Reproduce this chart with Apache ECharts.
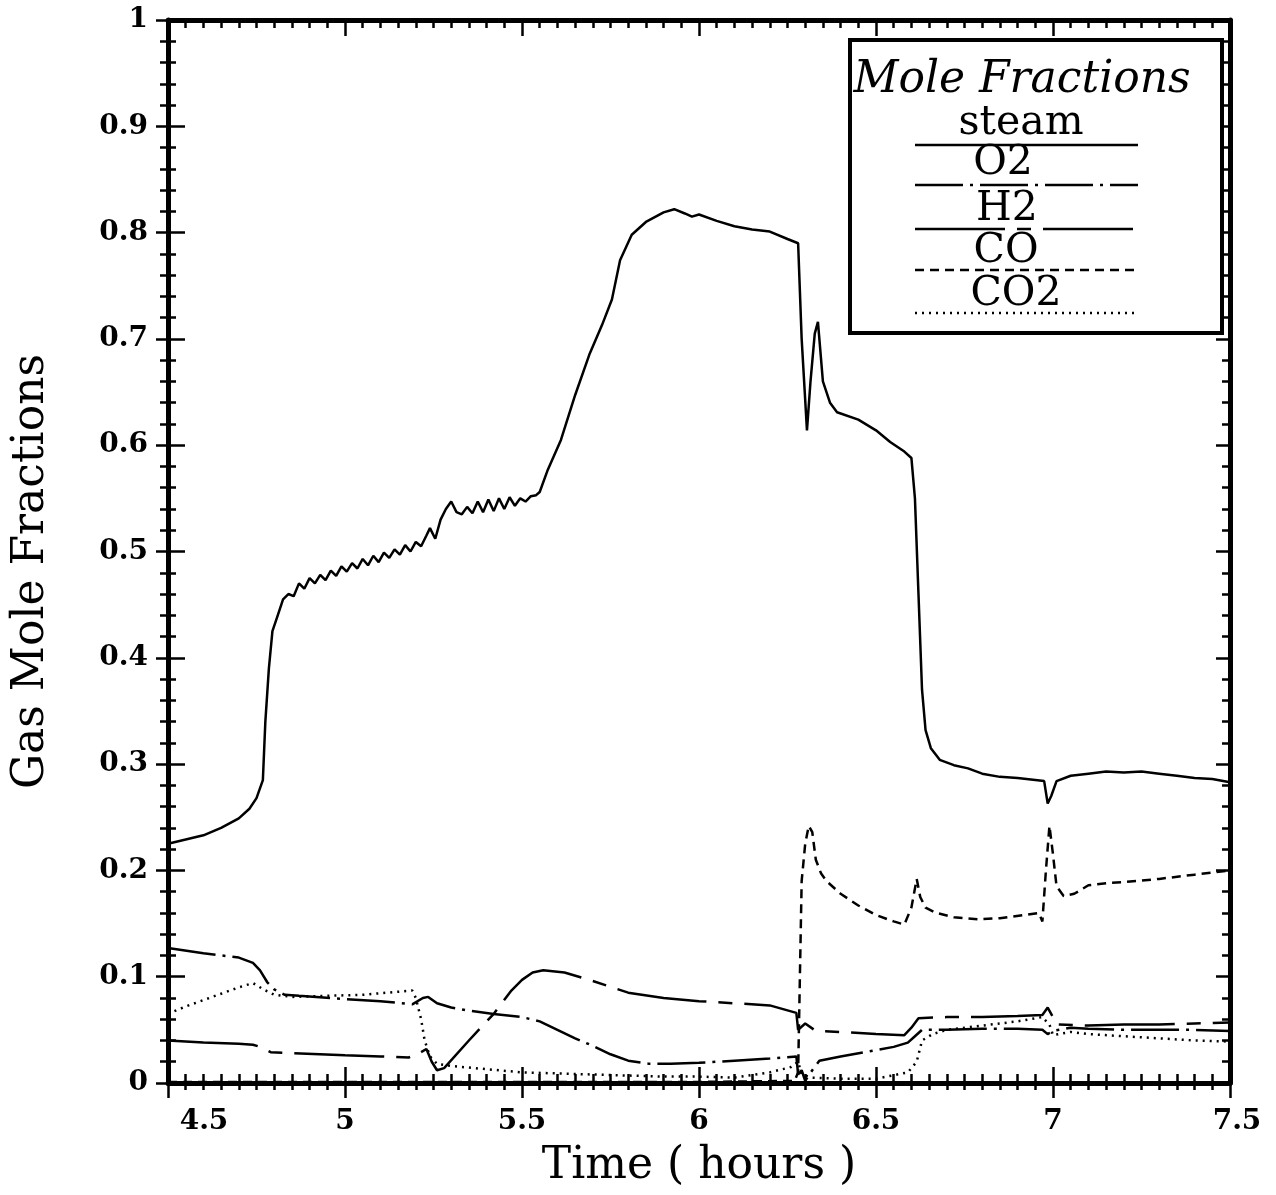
<!DOCTYPE html>
<html>
<head>
<meta charset="utf-8">
<script src="https://cdn.jsdelivr.net/npm/echarts@6/dist/echarts.min.js"></script>
<style>
html,body{margin:0;padding:0;background:#fff;}
#chart{width:1276px;height:1195px;}
</style>
</head>
<body>
<div id="chart"></div>
<script>
// ---- data ----
const xTickLabels = ['4.5','5','5.5','6','6.5','7','7.5'];
const yTickLabels = ['0','0.1','0.2','0.3','0.4','0.5','0.6','0.7','0.8','0.9','1'];
const seriesNames = ['steam','O2','H2','CO','CO2'];

const steamT = [4.50,4.55,4.60,4.65,4.70,4.73,4.75,4.768,4.775,4.785,4.795,4.81,4.825,4.84,4.855,
  4.87,4.885,4.90,4.915,4.93,4.945,4.96,4.975,4.99,5.005,5.02,5.035,5.05,5.065,5.08,5.095,5.11,5.125,5.14,5.155,5.17,5.185,5.20,5.215,5.23,5.24,5.255,
  5.27,5.285,5.30,5.315,5.33,5.345,5.36,5.375,5.39,5.405,5.42,5.435,5.45,5.465,5.48,5.495,5.51,5.525,5.54,
  5.55,5.573,5.61,5.65,5.69,5.726,5.754,5.777,5.81,5.85,5.90,5.93,5.96,5.98,6.00,6.05,6.10,6.15,6.20,6.25,6.28,
  6.29,6.305,6.315,6.327,6.336,6.35,6.37,6.39,6.45,6.50,6.54,6.58,6.60,6.61,6.62,6.63,6.64,6.655,6.68,6.72,6.76,6.80,6.85,6.90,6.95,6.975,
  6.985,6.995,7.01,7.05,7.10,7.15,7.20,7.25,7.30,7.35,7.40,7.45,7.50];
const steamV = [0.225,0.229,0.233,0.240,0.249,0.258,0.268,0.285,0.340,0.390,0.425,0.440,0.455,0.460,0.458,
  0.470,0.465,0.475,0.470,0.478,0.473,0.482,0.477,0.486,0.481,0.489,0.484,0.493,0.487,0.496,0.490,0.499,0.494,0.502,0.497,0.506,0.500,0.509,0.505,0.515,0.522,0.512,
  0.530,0.540,0.547,0.537,0.535,0.542,0.536,0.547,0.537,0.549,0.538,0.550,0.540,0.551,0.543,0.550,0.547,0.552,0.553,
  0.556,0.577,0.605,0.647,0.685,0.713,0.737,0.774,0.798,0.810,0.819,0.822,0.818,0.815,0.817,0.811,0.806,0.803,0.801,0.794,0.790,
  0.700,0.614,0.660,0.705,0.716,0.660,0.640,0.631,0.624,0.614,0.603,0.594,0.588,0.550,0.460,0.370,0.332,0.315,0.304,0.299,0.296,0.291,0.288,0.287,0.285,0.284,
  0.263,0.270,0.284,0.289,0.291,0.293,0.292,0.293,0.291,0.289,0.287,0.286,0.283];

const o2T = [4.50,4.60,4.70,4.74,4.76,4.78,4.80,4.83,4.87,5.00,5.10,5.19,5.22,5.235,5.26,5.30,5.35,5.42,5.50,5.55,5.60,5.65,5.70,5.75,5.80,5.86,5.92,6.00,6.10,6.20,6.275,
  6.28,6.29,6.30,6.32,6.34,6.40,6.50,6.55,6.59,6.61,6.63,6.70,6.80,6.90,6.97,6.985,7.00,7.05,7.10,7.20,7.30,7.40,7.50];
const o2V = [0.127,0.122,0.118,0.113,0.106,0.095,0.088,0.083,0.082,0.079,0.077,0.074,0.080,0.081,0.075,0.071,0.068,0.065,0.062,0.058,0.050,0.042,0.035,0.027,0.021,0.018,0.018,0.019,0.021,0.023,0.025,
  0.008,0.012,0.002,0.012,0.021,0.025,0.031,0.034,0.038,0.044,0.050,0.050,0.051,0.051,0.050,0.046,0.049,0.052,0.051,0.050,0.050,0.050,0.049];

const h2T = [4.50,4.60,4.70,4.74,4.76,4.79,4.85,5.00,5.10,5.18,5.21,5.23,5.245,5.26,5.28,5.35,5.42,5.47,5.50,5.53,5.56,5.62,5.70,5.80,5.90,6.00,6.10,6.20,6.275,
  6.28,6.30,6.33,6.40,6.50,6.58,6.60,6.62,6.70,6.80,6.90,6.97,6.985,7.00,7.01,7.10,7.20,7.30,7.40,7.50];
const h2V = [0.040,0.038,0.037,0.036,0.034,0.029,0.028,0.026,0.025,0.024,0.028,0.032,0.020,0.012,0.014,0.040,0.065,0.087,0.097,0.104,0.106,0.104,0.096,0.085,0.080,0.077,0.075,0.073,0.066,
  0.050,0.056,0.049,0.048,0.046,0.045,0.052,0.061,0.062,0.062,0.063,0.064,0.071,0.062,0.055,0.054,0.055,0.055,0.056,0.057];

const coT = [4.50,5.00,5.50,6.00,6.27,6.28,6.285,6.29,6.30,6.31,6.32,6.33,6.345,6.36,6.40,6.45,6.50,6.55,6.58,6.60,6.615,6.625,6.64,6.67,6.72,6.79,6.85,6.92,6.96,6.97,
  6.98,6.99,7.00,7.01,7.03,7.06,7.10,7.15,7.20,7.30,7.40,7.50];
const coV = [0.001,0.001,0.001,0.001,0.002,0.010,0.100,0.190,0.225,0.242,0.236,0.210,0.197,0.190,0.178,0.167,0.158,0.152,0.149,0.165,0.192,0.175,0.165,0.160,0.156,0.154,0.155,0.158,0.160,0.152,
  0.200,0.242,0.215,0.185,0.176,0.178,0.186,0.188,0.189,0.192,0.196,0.200];

const co2T = [4.50,4.55,4.60,4.65,4.70,4.74,4.77,4.80,4.85,4.95,5.05,5.12,5.19,5.20,5.215,5.225,5.24,5.26,5.30,5.40,5.50,5.60,5.70,5.80,5.90,6.00,6.10,6.20,6.26,6.28,
  6.29,6.32,6.40,6.50,6.59,6.615,6.63,6.66,6.70,6.80,6.90,6.97,6.99,7.00,7.05,7.10,7.20,7.30,7.40,7.50];
const co2V = [0.065,0.072,0.078,0.084,0.090,0.094,0.088,0.083,0.081,0.082,0.083,0.085,0.087,0.080,0.060,0.040,0.025,0.018,0.016,0.013,0.010,0.009,0.008,0.007,0.006,0.006,0.005,0.010,0.015,0.020,
  0.008,0.005,0.004,0.004,0.010,0.020,0.040,0.046,0.050,0.054,0.058,0.062,0.055,0.045,0.048,0.046,0.044,0.042,0.040,0.039];

// ---- build ----
function pairs(t, v){ return t.map((x,i)=>[x, v[i]]); }
const dashTypes = {
  steam: 'solid',
  O2: [48, 7, 3, 7],
  H2: [90, 12, 14, 12],
  CO: [9, 6],
  CO2: [2, 5]
};
const dataMap = {
  steam: pairs(steamT, steamV),
  O2: pairs(o2T, o2V),
  H2: pairs(h2T, h2V),
  CO: pairs(coT, coV),
  CO2: pairs(co2T, co2V)
};

const serif = 'DejaVu Serif';
const labelFont = 'DejaVu Serif';
const labelSize = 28;

const chart = echarts.init(document.getElementById('chart'), null, {renderer:'canvas'});

const xBase = {type:'value', min:4.5, max:7.5, interval:0.5, gridIndex:0,
  splitLine:{show:false}, axisLine:{onZero:false}};
const yBase = {type:'value', min:0, max:1, interval:0.1, gridIndex:0,
  splitLine:{show:false}, axisLine:{onZero:false}};

const series = seriesNames.map(n => ({
  name:n, type:'line', xAxisIndex:0, yAxisIndex:0,
  data:dataMap[n], showSymbol:false, symbol:'none', smooth:false, animation:false,
  lineStyle:{color:'#000', width:2.5, type:dashTypes[n]}
}));

// legend graphics
const legendItems = [
  {name:'steam', tx:1021, ty:123, ly:145},
  {name:'O2', tx:1003, ty:163, ly:185},
  {name:'H2', tx:1007, ty:209, ly:229},
  {name:'CO', tx:1006, ty:251, ly:270},
  {name:'CO2', tx:1016, ty:294, ly:313}
];
const graphics = [
  {type:'rect', shape:{x:850, y:40, width:372, height:293}, style:{fill:'#fff', stroke:'#000', lineWidth:4}, z:100},
  {type:'text', x:1022, y:81, style:{text:'Mole Fractions', font:'italic 44px "DejaVu Serif"', fill:'#000', textAlign:'center', textVerticalAlign:'middle'}, z:101}
];
legendItems.forEach(it => {
  graphics.push({type:'text', x:it.tx, y:it.ty, style:{text:it.name, font:'41px "DejaVu Serif"', fill:'#000', textAlign:'center', textVerticalAlign:'middle'}, z:101});
  const d = dashTypes[it.name];
  graphics.push({type:'line', shape:{x1:915, y1:it.ly, x2:1138, y2:it.ly},
    style:{stroke:'#000', lineWidth:2.5, lineDash: d === 'solid' ? null : d}, z:101});
});

const option = {
  animation:false,
  backgroundColor:'#fff',
  grid:{left:168, right:46, top:20, bottom:112, containLabel:false},
  xAxis:[
    Object.assign({}, xBase, {position:'bottom',
      name:'Time ( hours )', nameLocation:'middle', nameGap:62,
      nameTextStyle:{fontFamily:serif, fontSize:44, color:'#000'},
      axisLine:{onZero:false, lineStyle:{color:'#000', width:5}},
      axisTick:{inside:true, length:16, lineStyle:{color:'#000', width:2.5}},
      minorTick:{show:true, splitNumber:10, length:9, lineStyle:{color:'#000', width:2.5}},
      axisLabel:{margin:25, color:'#000', fontFamily:labelFont, fontSize:labelSize, fontWeight:'bold',
        showMinLabel:true, showMaxLabel:true,
        formatter:function(v){
          const idx = Math.round((v-4.5)/0.5);
          const s = xTickLabels[idx];
          if (idx === 0) return '{first|' + s + '}';
          if (idx === xTickLabels.length-1) return '{last|' + s + '}';
          return s;
        },
        rich:{
          first:{padding:[0,0,0,72], fontFamily:labelFont, fontSize:labelSize, fontWeight:'bold', color:'#000'},
          last:{padding:[0,0,0,14], fontFamily:labelFont, fontSize:labelSize, fontWeight:'bold', color:'#000'}
        }
      }
    }),
    Object.assign({}, xBase, {position:'bottom',
      axisLine:{show:false, onZero:false},
      axisTick:{inside:false, length:15, lineStyle:{color:'#000', width:2.5}},
      minorTick:{show:true, splitNumber:10, length:7, lineStyle:{color:'#000', width:2.5}},
      axisLabel:{show:false}
    }),
    Object.assign({}, xBase, {position:'top',
      axisLine:{onZero:false, lineStyle:{color:'#000', width:5}},
      axisTick:{inside:true, length:16, lineStyle:{color:'#000', width:2.5}},
      minorTick:{show:true, splitNumber:10, length:8, lineStyle:{color:'#000', width:2.5}},
      axisLabel:{show:false}
    })
  ],
  yAxis:[
    Object.assign({}, yBase, {position:'left',
      name:'Gas Mole Fractions', nameLocation:'middle', nameGap:114,
      nameTextStyle:{fontFamily:serif, fontSize:44, color:'#000', padding:[0,40,0,0]},
      axisLine:{onZero:false, lineStyle:{color:'#000', width:5}},
      axisTick:{inside:true, length:17, lineStyle:{color:'#000', width:2.5}},
      minorTick:{show:true, splitNumber:5, length:8, lineStyle:{color:'#000', width:2.5}},
      axisLabel:{margin:20, color:'#000', fontFamily:labelFont, fontSize:labelSize, fontWeight:'bold',
        showMinLabel:true, showMaxLabel:true,
        formatter:function(v){ return yTickLabels[Math.round(v*10)]; }
      }
    }),
    Object.assign({}, yBase, {position:'left',
      axisLine:{show:false, onZero:false},
      axisTick:{inside:false, length:12, lineStyle:{color:'#000', width:2.5}},
      minorTick:{show:true, splitNumber:5, length:8, lineStyle:{color:'#000', width:2.5}},
      axisLabel:{show:false}
    }),
    Object.assign({}, yBase, {position:'right',
      axisLine:{onZero:false, lineStyle:{color:'#000', width:5}},
      axisTick:{inside:true, length:14, lineStyle:{color:'#000', width:2.5}},
      minorTick:{show:true, splitNumber:5, length:8, lineStyle:{color:'#000', width:2.5}},
      axisLabel:{show:false}
    })
  ],
  series: series,
  graphic: graphics
};
chart.setOption(option);
</script>
</body>
</html>
